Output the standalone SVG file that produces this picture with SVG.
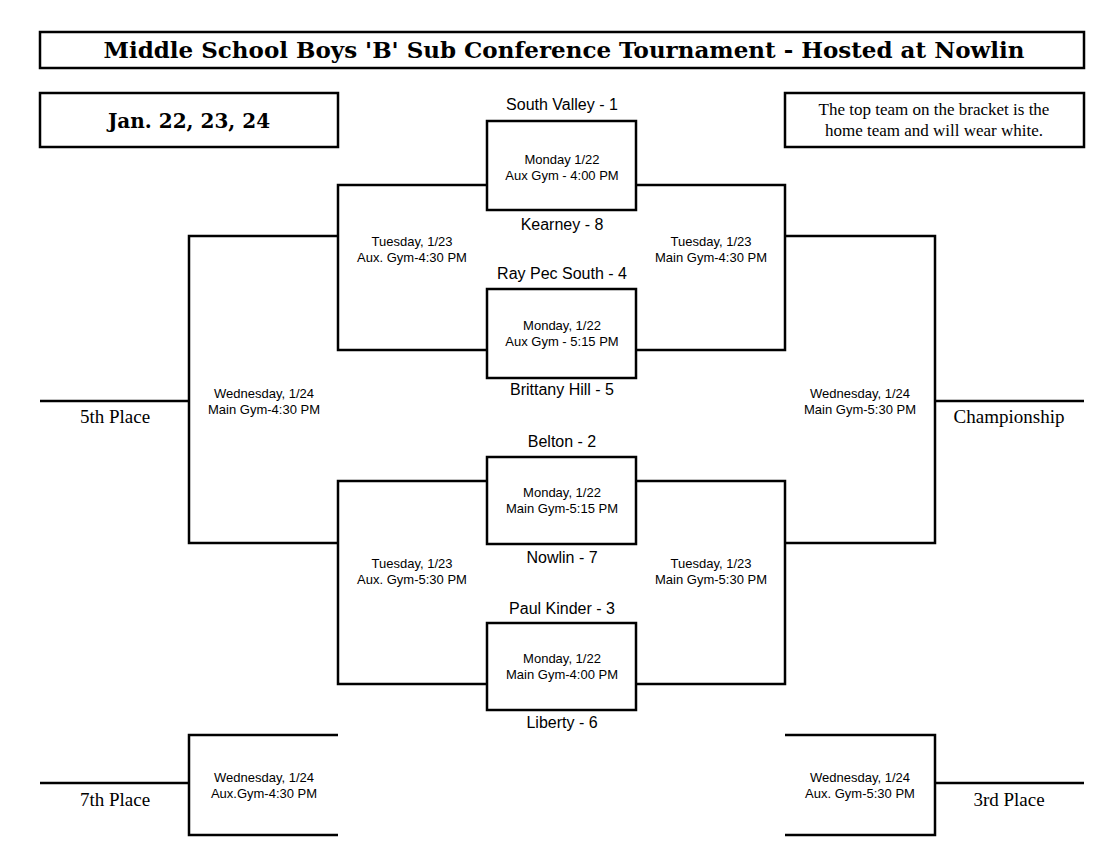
<svg xmlns="http://www.w3.org/2000/svg" width="1120" height="860" viewBox="0 0 1120 860">
<style>
.b{fill:none;stroke:#000;stroke-width:2.5}
.s{font-family:"Liberation Sans",Arial,sans-serif;font-size:13px;text-anchor:middle}
.t{font-family:"Liberation Sans",Arial,sans-serif;font-size:16px;text-anchor:middle}
.r{font-family:"Liberation Serif","Times New Roman",serif;font-size:17px;text-anchor:middle}
.p{font-family:"Liberation Serif","Times New Roman",serif;font-size:19px;text-anchor:middle}
.h{font-family:"DejaVu Serif","Liberation Serif",serif;font-weight:bold;text-anchor:middle}
</style>
<rect width="1120" height="860" fill="#fff"/>
<g id="title"><rect class="b" x="40" y="32" width="1044" height="36"/><text class="h" x="564" y="58" font-size="23">Middle School Boys 'B' Sub Conference Tournament - Hosted at Nowlin</text></g>
<g id="dates"><rect class="b" x="40" y="93" width="298" height="54"/><text class="h" x="189" y="128" font-size="20">Jan. 22, 23, 24</text></g>
<g id="note"><rect class="b" x="785" y="93" width="299" height="54"/><text class="r" x="934" y="115">The top team on the bracket is the</text><text class="r" x="934" y="136">home team and will wear white.</text></g>
<g id="connectors" class="b">
<path d="M487 185H338V350H487M636 185H785V350H636"/>
<path d="M487 481H338V684H487M636 481H785V684H636"/>
<path d="M338 236H189V543H338M785 236H935V543H785"/>
<path d="M40 401H189M935 401H1084"/>
<path d="M338 735H189V835H338M785 735H935V835H785M40 783H189M935 783H1084"/>
</g>
<g id="g1"><rect class="b" x="487" y="121" width="149" height="89"/><text class="s" x="562" y="164">Monday 1/22</text><text class="s" x="562" y="180">Aux Gym - 4:00 PM</text></g>
<g id="g2"><rect class="b" x="487" y="289" width="149" height="89"/><text class="s" x="562" y="330">Monday, 1/22</text><text class="s" x="562" y="346">Aux Gym - 5:15 PM</text></g>
<g id="g3"><rect class="b" x="487" y="457" width="149" height="87"/><text class="s" x="562" y="497">Monday, 1/22</text><text class="s" x="562" y="513">Main Gym-5:15 PM</text></g>
<g id="g4"><rect class="b" x="487" y="623" width="149" height="87"/><text class="s" x="562" y="663">Monday, 1/22</text><text class="s" x="562" y="679">Main Gym-4:00 PM</text></g>
<g id="teams">
<text class="t" x="562" y="110">South Valley - 1</text>
<text class="t" x="562" y="230">Kearney - 8</text>
<text class="t" x="562" y="279">Ray Pec South - 4</text>
<text class="t" x="562" y="395">Brittany Hill - 5</text>
<text class="t" x="562" y="447">Belton - 2</text>
<text class="t" x="562" y="563">Nowlin - 7</text>
<text class="t" x="562" y="614">Paul Kinder - 3</text>
<text class="t" x="562" y="728">Liberty - 6</text>
</g>
<g id="labels">
<text class="s" x="412" y="246">Tuesday, 1/23</text><text class="s" x="412" y="262">Aux. Gym-4:30 PM</text>
<text class="s" x="711" y="246">Tuesday, 1/23</text><text class="s" x="711" y="262">Main Gym-4:30 PM</text>
<text class="s" x="412" y="568">Tuesday, 1/23</text><text class="s" x="412" y="584">Aux. Gym-5:30 PM</text>
<text class="s" x="711" y="568">Tuesday, 1/23</text><text class="s" x="711" y="584">Main Gym-5:30 PM</text>
<text class="s" x="264" y="398">Wednesday, 1/24</text><text class="s" x="264" y="414">Main Gym-4:30 PM</text>
<text class="s" x="860" y="398">Wednesday, 1/24</text><text class="s" x="860" y="414">Main Gym-5:30 PM</text>
<text class="s" x="264" y="782">Wednesday, 1/24</text><text class="s" x="264" y="798">Aux.Gym-4:30 PM</text>
<text class="s" x="860" y="782">Wednesday, 1/24</text><text class="s" x="860" y="798">Aux. Gym-5:30 PM</text>
<text class="p" x="115" y="423">5th Place</text>
<text class="p" x="1009" y="423">Championship</text>
<text class="p" x="115" y="806">7th Place</text>
<text class="p" x="1009" y="806">3rd Place</text>
</g>
</svg>
